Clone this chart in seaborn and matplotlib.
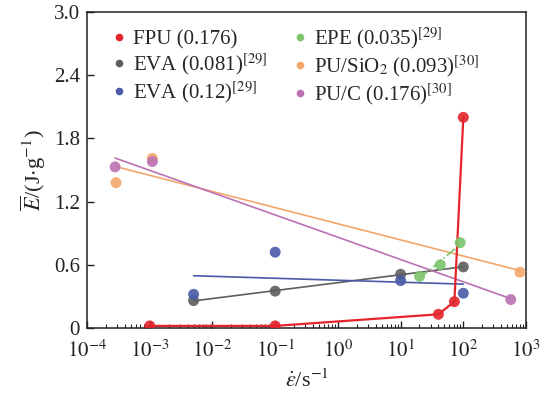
import numpy as np
import pandas as pd
import matplotlib
matplotlib.use("Agg")
import matplotlib.pyplot as plt
import seaborn as sns
from matplotlib.lines import Line2D

# ---- data ----
fpu_x = [1e-3, 1e-1, 40, 72, 100]
fpu_y = [0.02, 0.02, 0.13, 0.25, 2.00]

epe_x = [20, 43, 89]
epe_y = [0.49, 0.60, 0.81]

eva081_x = [5e-3, 1e-1, 10, 100]
eva081_y = [0.26, 0.35, 0.51, 0.58]

eva012_x = [5e-3, 1e-1, 10, 100]
eva012_y = [0.32, 0.72, 0.45, 0.33]

pusio2_x = [2.9e-4, 1.1e-3, 800]
pusio2_y = [1.38, 1.61, 0.53]

puc_x = [2.8e-4, 1.1e-3, 570]
puc_y = [1.53, 1.58, 0.27]

labels = ["FPU (0.176)", "EVA (0.081)$^{[29]}$", "EVA (0.12)$^{[29]}$",
          "EPE (0.035)$^{[29]}$", "PU/SiO$_2$ (0.093)$^{[30]}$", "PU/C (0.176)$^{[30]}$"]
colors = {"fpu": "#e3242b", "epe": "#7cc46c", "eva081": "#5e5e5e",
          "eva012": "#4a5aa8", "pusio2": "#f3a66c", "puc": "#bb72b4"}

x_ticks = [1e-4, 1e-3, 1e-2, 1e-1, 1e0, 1e1, 1e2, 1e3]
x_ticklabels = ["$10^{-4}$", "$10^{-3}$", "$10^{-2}$", "$10^{-1}$", "$10^{0}$",
                "$10^{1}$", "$10^{2}$", "$10^{3}$"]
y_ticks = [0, 0.6, 1.2, 1.8, 2.4, 3.0]
y_ticklabels = ["0", "0.6", "1.2", "1.8", "2.4", "3.0"]

# ---- style ----
sns.set_style("ticks")
plt.rcParams["font.family"] = ["Liberation Serif", "DejaVu Serif"]
plt.rcParams["mathtext.fontset"] = "stix"
plt.rcParams["font.size"] = 14

fig = plt.figure(figsize=(5.44, 3.94), dpi=100)
ax = fig.add_axes([0.16, 0.1675, 0.807, 0.802])
ax.set_xscale("log")

ms = 62
alpha = 0.9

# fits (y linear in log10 x)
fit_sets = [
    (eva081_x, eva081_y, colors["eva081"], "-"),
    (eva012_x, eva012_y, colors["eva012"], "-"),
    (pusio2_x, pusio2_y, colors["pusio2"], "-"),
    (puc_x, puc_y, colors["puc"], "-"),
    (epe_x, epe_y, colors["epe"], "-."),
]
for xs, ys, c, ls in fit_sets:
    sns.regplot(x=np.array(xs), y=np.array(ys), logx=True, ci=None, scatter=False,
                ax=ax, color=c, line_kws={"lw": 1.2, "ls": ls})

# FPU connected line
sns.lineplot(x=fpu_x, y=fpu_y, ax=ax, color=colors["fpu"], lw=1.6, sort=False)

# scatter points
for xs, ys, key in [(pusio2_x, pusio2_y, "pusio2"), (puc_x, puc_y, "puc"),
                    (eva081_x, eva081_y, "eva081"), (eva012_x, eva012_y, "eva012"),
                    (epe_x, epe_y, "epe"), (fpu_x, fpu_y, "fpu")]:
    sns.scatterplot(x=xs, y=ys, ax=ax, color=colors[key], s=ms, alpha=alpha,
                    edgecolor="none", zorder=4)

ax.set_xlim(1e-4, 1e3)
ax.set_ylim(0, 3.0)
ax.set_xticks(x_ticks)
ax.set_xticklabels(x_ticklabels)
ax.set_yticks(y_ticks)
ax.set_yticklabels(y_ticklabels)
ax.xaxis.set_minor_locator(matplotlib.ticker.LogLocator(base=10, subs=np.arange(2, 10)))
ax.xaxis.set_minor_formatter(matplotlib.ticker.NullFormatter())
ax.tick_params(axis="both", which="major", direction="in", length=5, width=1,
               colors="#222222")
ax.tick_params(axis="y", labelsize=15, pad=5)
ax.tick_params(axis="x", labelsize=15, pad=9)
ax.tick_params(axis="x", which="minor", direction="in", length=3, width=0.8)
for s in ax.spines.values():
    s.set_visible(True)
    s.set_linewidth(1.1)
    s.set_color("#222222")

ax.set_xlabel(r"$\dot{\varepsilon}$/s$^{-1}$", fontsize=16, labelpad=5)
ax.set_ylabel(r"$\overline{E}$/(J$\cdot$g$^{-1}$)", fontsize=16, labelpad=4)

order = ["fpu", "eva081", "eva012", "epe", "pusio2", "puc"]
handles = [Line2D([], [], marker="o", ls="none", color=colors[k], markersize=5.5,
                  markeredgewidth=0) for k in order]
ax.legend(handles, labels, loc="upper left", ncol=2, frameon=False, fontsize=15,
          handletextpad=0.05, columnspacing=1.0, labelspacing=0.12,
          bbox_to_anchor=(0.016, 0.997), borderaxespad=0.2, handlelength=1.2)

fig.savefig("out.png", dpi=100)
